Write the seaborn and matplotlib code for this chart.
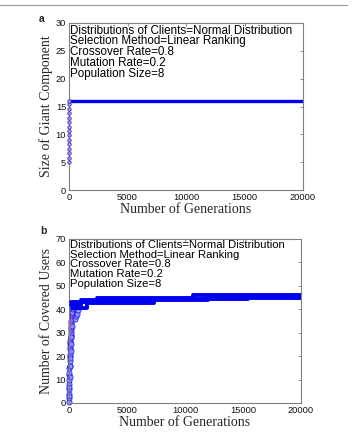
import matplotlib
matplotlib.use("Agg")
import matplotlib.pyplot as plt
import seaborn as sns
import pandas as pd
from matplotlib.lines import Line2D

# ---------------- data ----------------
# panel a: early rise then flat giant component size
gen_a_early = [0, 3, 6, 9, 12, 15, 18, 21, 24, 27, 30, 33, 36, 39, 42]
val_a_early = [5.0, 5.8, 6.6, 7.4, 8.2, 9.0, 9.8, 10.6, 11.4, 12.2, 13.0, 13.8, 14.6, 15.4, 16.0]
gen_a_flat = [42, 20000]
val_a_flat = [16.0, 16.0]

# panel b: step runs (generation breakpoints / values)
run_top_gen = [150, 2400, 10700, 20000]
run_top_val = [43.2, 45.0, 45.9, 45.9]
run_bot_gen = [300, 1550, 7300, 15400, 20000]
run_bot_val = [40.5, 42.7, 44.3, 45.2, 45.2]
run_mid_gen = [200, 1000, 5000, 12000, 20000]
run_mid_val = [42.0, 43.8, 44.0, 45.0, 45.0]

# panel b: early scattered points
gen_b_early = [0, 5, 10, 15, 20, 25, 30, 35, 40, 45, 50, 60, 70, 80, 90, 100, 110, 120, 130,
               140, 150, 160, 170, 180, 190, 200, 220, 240, 260, 280, 300, 330, 360, 400,
               450, 500, 560, 620, 700, 800, 900, 20, 40, 60, 80, 100, 130, 160, 200, 250]
val_b_early = [0.5, 2, 4, 6, 8, 10, 12, 13, 15, 16, 18, 20, 21, 23, 24, 25, 26, 27, 28,
               29, 30, 31, 32, 33, 34, 35, 36, 37, 38, 38.5, 39, 40, 40.5, 41, 41.5, 42,
               36, 37, 38, 39.5, 41, 3, 7, 11, 16, 19, 22, 25, 28, 33]

# panel b: mean curve
gen_b_mean = [0, 20, 50, 100, 200, 300, 500, 1000, 2000, 5000, 10000, 15000, 20000]
val_b_mean = [8, 14, 22, 30, 36, 39, 41, 42.5, 43.3, 44.0, 44.7, 45.1, 45.4]

xticks = [0, 5000, 10000, 15000, 20000]
yticks_a = [0, 5, 10, 15, 20, 25, 30]
yticks_b = [0, 10, 20, 30, 40, 50, 60, 70]

info_lines = ["Distributions of Clients=Normal Distribution",
              "Selection Method=Linear Ranking",
              "Crossover Rate=0.8",
              "Mutation Rate=0.2",
              "Population Size=8"]

# ---------------- style ----------------
sns.set_style("white")
plt.rcParams["font.family"] = ["Liberation Sans", "DejaVu Sans"]

W, H = 356, 433
fig = plt.figure(figsize=(W / 100, H / 100), dpi=100)

def ax_rect(l, r, t, b):
    return [l / W, 1 - b / H, (r - l) / W, (b - t) / H]

ax_a = fig.add_axes(ax_rect(69, 303, 23, 190))
ax_b = fig.add_axes(ax_rect(69, 301, 239, 403))

blue = "#0000f0"
serif = ["Liberation Serif", "DejaVu Serif"]

def style_axes(ax, yticks, ylabel):
    ax.set_xlim(0, 20000)
    ax.set_ylim(yticks[0], yticks[-1])
    ax.set_xticks(xticks)
    ax.set_yticks(yticks)
    ax.set_xticklabels([str(t) for t in xticks])
    ax.set_yticklabels([str(t) for t in yticks])
    for s in ax.spines.values():
        s.set_color("#808080")
        s.set_linewidth(0.8)
        s.set_visible(True)
    ax.tick_params(direction="in", length=2.5, width=0.6, color="#808080",
                   labelsize=6.7, pad=2, top=True, right=True, labelcolor="#111111")
    ax.set_xlabel("Number of Generations", family=serif, fontsize=10, labelpad=1)
    ax.set_ylabel(ylabel, family=serif, fontsize=10, labelpad=2)

# panel a
df_a_flat = pd.DataFrame({"gen": gen_a_flat, "val": val_a_flat})
sns.lineplot(data=df_a_flat, x="gen", y="val", ax=ax_a, color=blue, linewidth=2.4,
             estimator=None, sort=False)
df_a_early = pd.DataFrame({"gen": gen_a_early, "val": val_a_early})
sns.scatterplot(data=df_a_early, x="gen", y="val", ax=ax_a, marker="o", s=6,
                facecolor="#b0a8e8", edgecolor="#3a2fc0", linewidth=0.6, zorder=3, clip_on=False)
style_axes(ax_a, yticks_a, "Size of Giant Component")

# panel b
sns.scatterplot(x=gen_b_early, y=val_b_early, ax=ax_b, marker="o", s=14,
                facecolor="#9a9aff", edgecolor=blue, linewidth=0.6, alpha=0.8, zorder=2, clip_on=False)
sns.lineplot(x=gen_b_mean, y=val_b_mean, ax=ax_b, color="#e0508a", linewidth=0.6,
             estimator=None, sort=False, zorder=2.5)
for g, v in [(run_top_gen, run_top_val), (run_mid_gen, run_mid_val), (run_bot_gen, run_bot_val)]:
    sns.lineplot(x=g, y=v, ax=ax_b, color=blue, linewidth=2.8, drawstyle="steps-post",
                 estimator=None, sort=False, zorder=3)
style_axes(ax_b, yticks_b, "Number of Covered Users")

# info text blocks
def info(top_px, step_px, size):
    for i, line in enumerate(info_lines):
        fig.text(70.5 / W, 1 - (top_px + i * step_px) / H, line, fontsize=size,
                 va="top", ha="left", color="black")

info(24.5, 10.9, 8.4)
info(240.0, 9.7, 8.1)

# panel letters
fig.text(39 / W, 1 - 14 / H, "a", fontsize=7.5, fontweight="bold", va="top")
fig.text(40 / W, 1 - 226 / H, "b", fontsize=7.5, fontweight="bold", va="top")

# separator line on top
fig.add_artist(Line2D([0, 347 / W], [1 - 5 / H, 1 - 5 / H], color="#999999", linewidth=0.8,
                      transform=fig.transFigure))

fig.savefig("out.png", dpi=100)
